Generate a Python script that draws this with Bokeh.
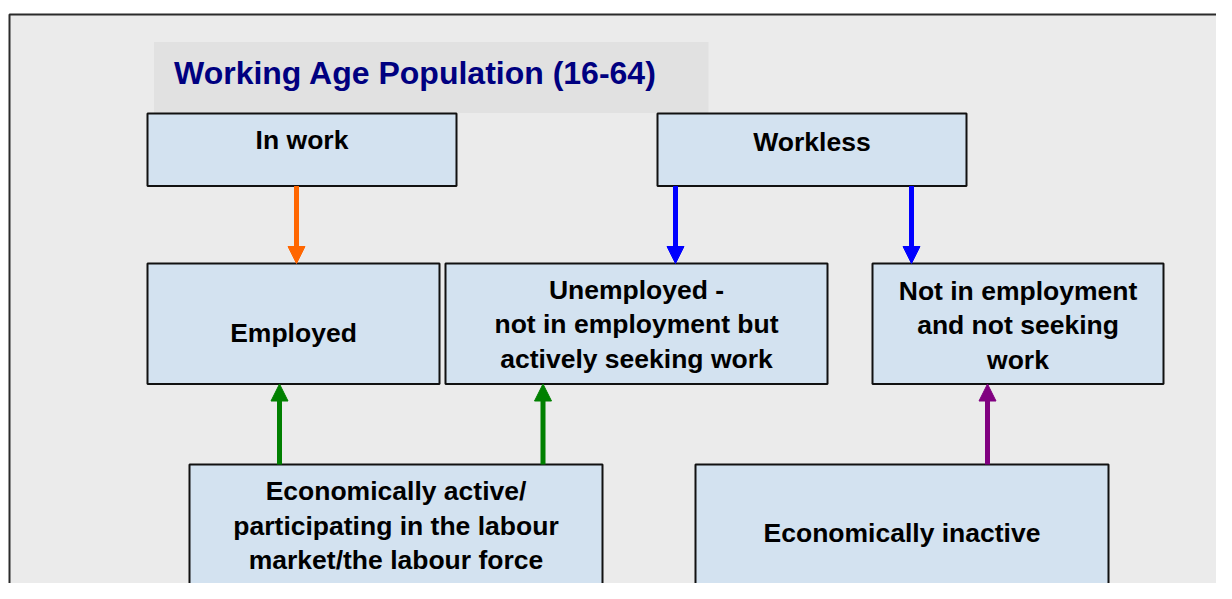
from bokeh.plotting import figure
from bokeh.models import Range1d, Arrow, NormalHead, ColumnDataSource
from bokeh.core.properties import value
from bokeh.embed import file_html
from bokeh.resources import INLINE

# ---- content ----
title_text = "Working Age Population (16-64)"
box_names = ["In work", "Workless", "Employed", "Unemployed", "Not in employment",
             "Economically active", "Economically inactive"]
box_lines = [
    ["In work"],
    ["Workless"],
    ["Employed"],
    ["Unemployed -", "not in employment but", "actively seeking work"],
    ["Not in employment", "and not seeking", "work"],
    ["Economically active/", "participating in the labour", "market/the labour force"],
    ["Economically inactive"],
]
arrow_from = ["In work", "Workless", "Workless", "Economically active", "Economically active",
              "Economically inactive"]
arrow_to = ["Employed", "Unemployed", "Not in employment", "Employed", "Unemployed",
            "Not in employment"]
arrow_colors = ["#ff6600", "#0000ff", "#0000ff", "#008000", "#008000", "#800080"]

# ---- layout (picture pixel coordinates) ----
box_geom = {  # left, right, top, bottom, first text line position
    "In work": (147, 456, 113, 185.5, 139.5),
    "Workless": (657, 966, 113, 185.5, 141),
    "Employed": (147, 439, 263, 383.5, 332),
    "Unemployed": (445, 827, 263, 383.5, 289),
    "Not in employment": (872, 1163, 263, 383.5, 290),
    "Economically active": (189, 602, 464, 584.5, 490.5),
    "Economically inactive": (695, 1108, 464, 584.5, 532),
}
arrow_x = [296, 675, 911, 279, 542.5, 987]
line_gap = 34.5

W, H = 1216, 583
p = figure(width=W, height=H, output_backend="svg", toolbar_location=None,
           x_range=Range1d(0, W), y_range=Range1d(H, 0),
           min_border=0, x_axis_location=None, y_axis_location=None,
           background_fill_color="white", border_fill_color="white",
           outline_line_color=None)
p.grid.visible = False

# outer frame
p.quad(left=[9], right=[1400], top=[14], bottom=[800],
       fill_color="#ebebeb", line_color="#2b2b2b", line_width=2)
# title band
p.quad(left=[153.5], right=[708], top=[41.5], bottom=[112.5],
       fill_color="#e1e1e1", line_color=None)
p.text(x=[173.5], y=[72], text=[title_text], text_font=value("Liberation Sans"),
       text_font_style="bold", text_font_size="32px", text_color="#000080",
       text_align="left", text_baseline="alphabetic")

# boxes
src = ColumnDataSource(dict(
    left=[box_geom[n][0] for n in box_names],
    right=[box_geom[n][1] for n in box_names],
    top=[box_geom[n][2] for n in box_names],
    bottom=[box_geom[n][3] for n in box_names],
))
p.quad(left="left", right="right", top="top", bottom="bottom", source=src,
       fill_color="#d3e2f0", line_color="#111111", line_width=2)

tx, ty, tt = [], [], []
for n, lines in zip(box_names, box_lines):
    l, r, t, b, base = box_geom[n]
    for i, s in enumerate(lines):
        tx.append((l + r) / 2)
        ty.append(base + i * line_gap)
        tt.append(s)
p.text(x=tx, y=ty, text=tt, text_font=value("Liberation Sans"), text_font_style="bold",
       text_font_size="26.5px", text_color="black", text_align="center",
       text_baseline="alphabetic")

# arrows
for f, t, c, x in zip(arrow_from, arrow_to, arrow_colors, arrow_x):
    fb, tb = box_geom[f], box_geom[t]
    if fb[2] < tb[2]:  # downward
        y0, y1 = fb[3], tb[2]
    else:
        y0, y1 = fb[2], tb[3]
    p.add_layout(Arrow(x_start=x, y_start=y0, x_end=x, y_end=y1,
                       line_color=c, line_width=5,
                       end=NormalHead(size=17, fill_color=c, line_color=c, line_width=1)))

open("out.html", "w").write(file_html(p, INLINE))
